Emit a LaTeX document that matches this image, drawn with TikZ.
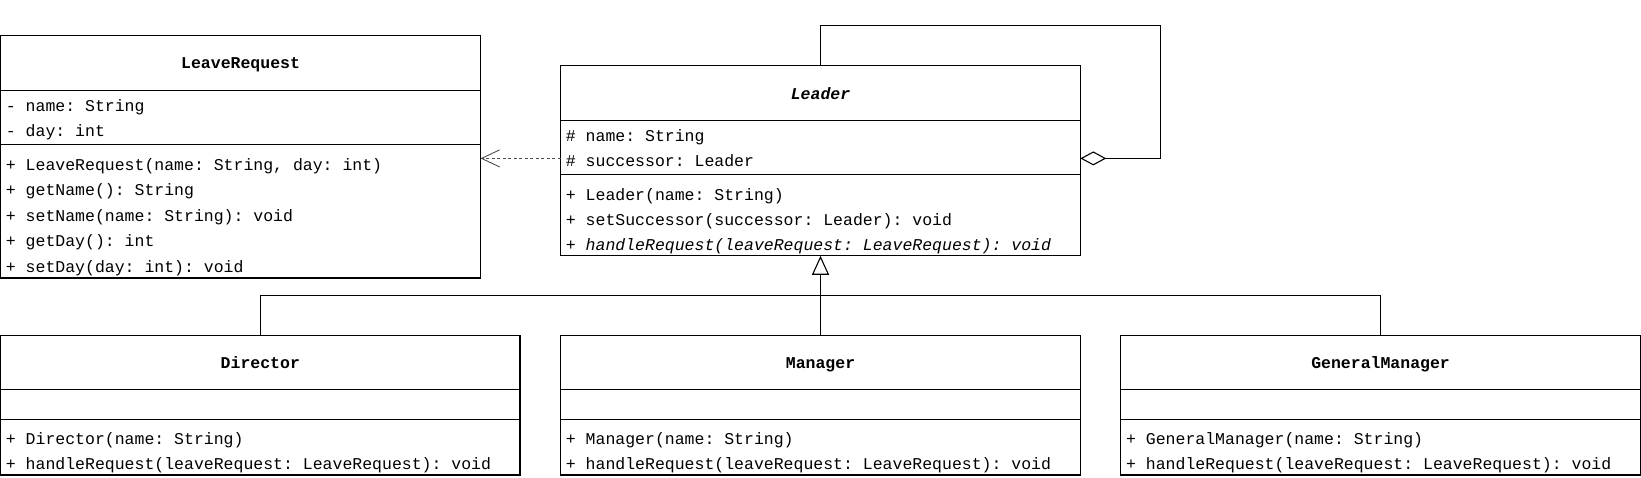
\documentclass[tikz,border=0pt]{standalone}
\usepackage{fontspec}
\setmonofont{Liberation Mono}
\usetikzlibrary{arrows.meta}
\newcommand\umlfnt{\ttfamily\fontsize{16.5}{20}\selectfont}
\begin{document}
\begin{tikzpicture}[x=1pt,y=-1pt,
  cls/.style={draw, line width=1.1pt, anchor=north west, inner sep=0pt, outer sep=0pt},
  ttl/.style={anchor=base, inner sep=0pt, font=\umlfnt\bfseries},
  mem/.style={anchor=base west, inner sep=0pt, font=\umlfnt},
  sepl/.style={line width=1.1pt},
  conn/.style={line width=1.1pt},
  dep/.style={line width=0.9pt, dash pattern=on 3pt off 2.5pt, draw=black!70, -{Straight Barb[length=18pt,width=17pt]}},
  agg/.style={conn, -{Diamond[open,length=26pt,width=14pt]}},
  inh/.style={conn, -{Triangle[open,length=19pt,width=17pt]}},
]
\useasboundingbox (0,0) rectangle (1641,477);

% ---------- LeaveRequest ----------
\node[cls, minimum width=479.8pt, minimum height=242.4pt] (lr) at (0.7,35.6) {};
\node[ttl] (lrt) at (240.6,68.85) {LeaveRequest};
\draw[sepl] (0.7,90.1) -- (480.5,90.1);
\draw[sepl] (0.7,144.5) -- (480.5,144.5);
\node[mem] (lra1) at (5.7,111.4) {- name: String};
\node[mem] (lra2) at (5.7,136.5) {- day: int};
\node[mem] (lrm1) at (5.7,170.0) {+ LeaveRequest(name: String, day: int)};
\node[mem] (lrm2) at (5.7,195.6) {+ getName(): String};
\node[mem] (lrm3) at (5.7,221.2) {+ setName(name: String): void};
\node[mem] (lrm4) at (5.7,246.8) {+ getDay(): int};
\node[mem] (lrm5) at (5.7,272.4) {+ setDay(day: int): void};

% ---------- Leader ----------
\node[cls, minimum width=519.6pt, minimum height=189.9pt] (lder) at (560.7,65.9) {};
\node[ttl, font=\umlfnt\bfseries\itshape] (ldt) at (820.5,99.15) {Leader};
\draw[sepl] (560.7,120.4) -- (1080.3,120.4);
\draw[sepl] (560.7,174.8) -- (1080.3,174.8);
\node[mem] (lda1) at (565.7,141.2) {\# name: String};
\node[mem] (lda2) at (565.7,166.3) {\# successor: Leader};
\node[mem] (ldm1) at (565.7,200.0) {+ Leader(name: String)};
\node[mem] (ldm2) at (565.7,225.1) {+ setSuccessor(successor: Leader): void};
\node[mem, font=\umlfnt\itshape] (ldm3) at (565.7,250.4) {+ handleRequest(leaveRequest: LeaveRequest): void};

% ---------- Director ----------
\node[cls, minimum width=519.3pt, minimum height=139.7pt] (dir) at (0.7,335.3) {};
\node[ttl] (dirt) at (260.35,368.55) {Director};
\draw[sepl] (0.7,389.8) -- (520,389.8);
\draw[sepl] (0.7,419.1) -- (520,419.1);
\node[mem] (dirm1) at (5.7,444.6) {+ Director(name: String)};
\node[mem] (dirm2) at (5.7,469.7) {+ handleRequest(leaveRequest: LeaveRequest): void};

% ---------- Manager ----------
\node[cls, minimum width=519.6pt, minimum height=139.7pt] (mgr) at (560.7,335.3) {};
\node[ttl] (mgrt) at (820.5,368.55) {Manager};
\draw[sepl] (560.7,389.8) -- (1080.3,389.8);
\draw[sepl] (560.7,419.1) -- (1080.3,419.1);
\node[mem] (mgrm1) at (565.7,444.6) {+ Manager(name: String)};
\node[mem] (mgrm2) at (565.7,469.7) {+ handleRequest(leaveRequest: LeaveRequest): void};

% ---------- GeneralManager ----------
\node[cls, minimum width=519.3pt, minimum height=139.7pt] (gm) at (1120.9,335.3) {};
\node[ttl] (gmt) at (1380.55,368.55) {GeneralManager};
\draw[sepl] (1120.9,389.8) -- (1640.2,389.8);
\draw[sepl] (1120.9,419.1) -- (1640.2,419.1);
\node[mem] (gmm1) at (1125.9,444.6) {+ GeneralManager(name: String)};
\node[mem] (gmm2) at (1125.9,469.7) {+ handleRequest(leaveRequest: LeaveRequest): void};

% ---------- connectors ----------
\coordinate (sy) at (0,158.4);
\draw[dep] (lder.west |- sy) -- (lr.east |- sy);

\coordinate (lp1) at (820.5,25.1);
\coordinate (lp2) at (1160.7,25.1);
\draw[agg] (lder.north) -- (lp1) -- (lp2) |- (lder.east |- sy);

\coordinate (bus) at (820.5,295.8);
\draw[conn] (dir.north) |- (bus);
\draw[conn] (gm.north) |- (bus);
\draw[inh] (mgr.north) -- (lder.south);
\end{tikzpicture}
\end{document}
